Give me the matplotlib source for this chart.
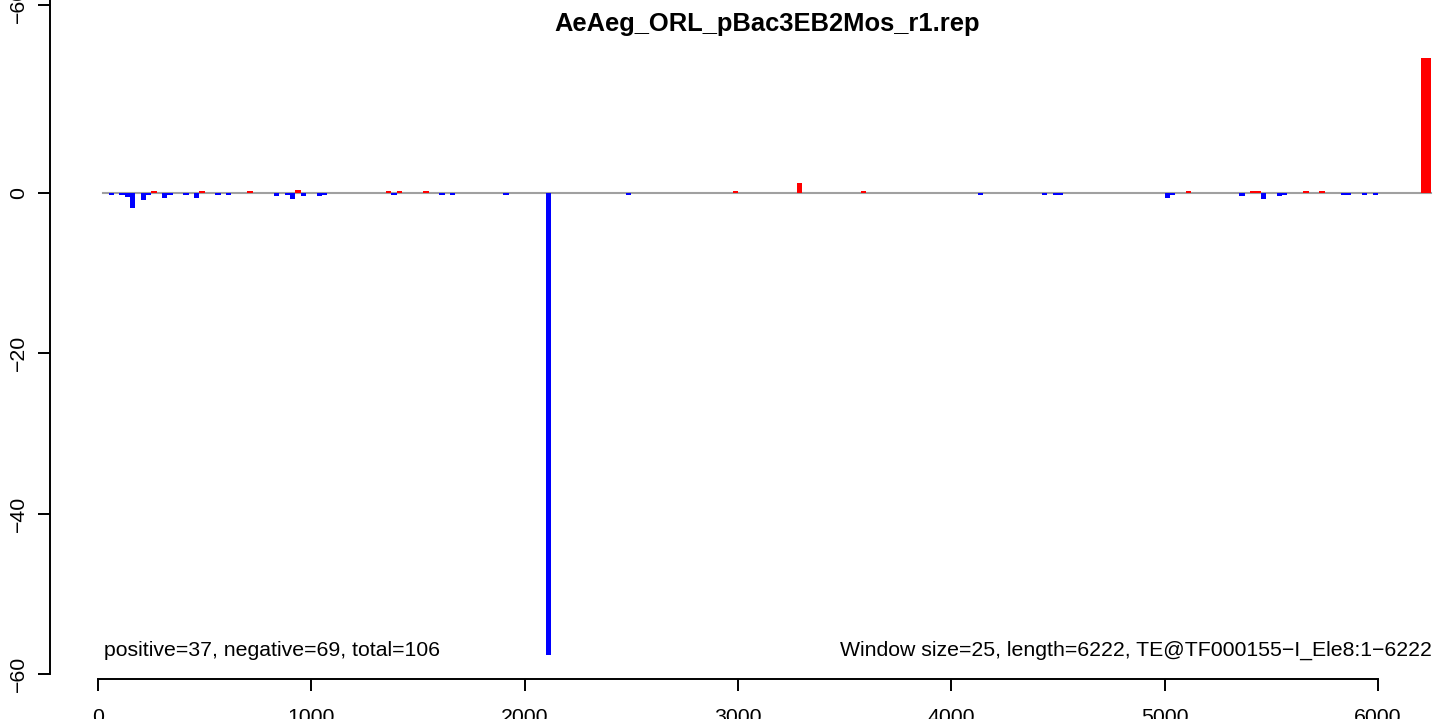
import matplotlib
matplotlib.use("Agg")
import matplotlib.pyplot as plt

plt.rcParams['font.family'] = ['Liberation Sans', 'DejaVu Sans']

# window starts (bp) and values for negative / positive windows
neg_start = [50, 100, 125, 150, 200, 225, 300, 325, 400, 450, 550, 600,
             825, 875, 900, 950, 1025, 1050, 1375, 1600, 1650, 1900, 2100,
             2475, 4125, 4425, 4475, 4500, 5000, 5025, 5350, 5450, 5525,
             5550, 5825, 5850, 5925, 5975]
neg_val = [-0.25, -0.25, -0.55, -1.9, -0.9, -0.25, -0.6, -0.25, -0.25, -0.6,
           -0.25, -0.25, -0.35, -0.25, -0.7, -0.35, -0.35, -0.25, -0.25,
           -0.25, -0.25, -0.25, -57.6, -0.25, -0.25, -0.25, -0.25, -0.25,
           -0.6, -0.25, -0.35, -0.75, -0.35, -0.25, -0.25, -0.25, -0.25, -0.25]
pos_start = [250, 475, 700, 925, 1350, 1400, 1525, 2975, 3275, 3575, 5100,
             5400, 5425, 5650, 5725, 6200, 6225]
pos_val = [0.25, 0.25, 0.25, 0.4, 0.25, 0.25, 0.25, 0.25, 1.25, 0.25, 0.25,
           0.25, 0.25, 0.25, 0.25, 16.9, 16.9]

win = 25
seq_len = 6222
n_win = 250
title = 'AeAeg_ORL_pBac3EB2Mos_r1.rep'
left_note = 'positive=37, negative=69, total=106'
right_note = 'Window size=25, length=6222, TE@TF000155\u2212I_Ele8:1\u22126222'
yticks = [-60, -40, -20, 0]
xticks = [0, 1000, 2000, 3000, 4000, 5000, 6000]

W, H = 1452, 719
fig = plt.figure(figsize=(W / 100, H / 100), dpi=100)
ax = fig.add_axes([50 / W, 0, (W - 50) / W, 1])

pxx = 1280 / 6000.0   # px per bp
pxy = 8.017           # px per unit
ax.set_xlim((50 - 98) / pxx, (W - 98) / pxx)
ymax = 193 / pxy
ax.set_ylim((193 - H) / pxy, ymax)

ax.plot([win, n_win * win], [0, 0], color='#A0A0A0', lw=1.5, zorder=1)
ax.bar(neg_start, neg_val, width=win, align='edge', color='#0000FF',
       linewidth=0, zorder=2)
ax.bar(pos_start, pos_val, width=win, align='edge', color='#FF0000',
       linewidth=0, zorder=2)

fs = 15.3
ax.text(28, -57.75, left_note, ha='left', va='baseline', fontsize=fs)
ax.text(6253, -57.75, right_note, ha='right', va='baseline', fontsize=fs)
fig.text(767.5 / W, 1 - 31 / H, title, ha='center', va='baseline',
         fontsize=fs * 1.2, fontweight='bold')

for s in ['top', 'right']:
    ax.spines[s].set_visible(False)
ax.spines['left'].set_bounds(-60, ymax)
ax.spines['bottom'].set_position(('data', (193 - 679) / pxy))
ax.spines['bottom'].set_bounds(0, 6000)
for s in ['left', 'bottom']:
    ax.spines[s].set_linewidth(1.4)

# tick of the panel above that shows at the top edge
top_tick = (193 - 5) / pxy
ax.set_yticks(yticks + [top_tick])
ax.set_yticklabels([str(v).replace('-', '\u2212') for v in yticks] + ['\u221260'])
ax.set_xticks(xticks)
ax.set_xticklabels([str(v) for v in xticks])
ax.tick_params(axis='both', direction='out', length=8.6, width=1.4, labelsize=fs)
ax.tick_params(axis='y', labelrotation=90, pad=7)
ax.tick_params(axis='x', pad=12.5)
for lab in ax.get_yticklabels():
    lab.set_va('center')

fig.savefig('out.png', dpi=100)
